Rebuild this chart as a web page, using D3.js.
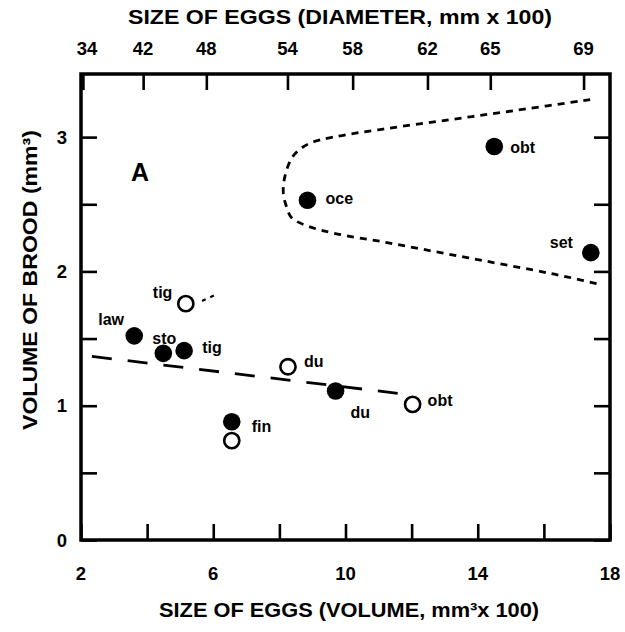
<!DOCTYPE html>
<html>
<head>
<meta charset="utf-8">
<script src="https://cdn.jsdelivr.net/npm/d3@7"></script>
<style>
  html, body { margin: 0; padding: 0; background: #fff; }
  svg { display: block; }
  text { font-family: "Liberation Sans", Arial, Helvetica, sans-serif; fill: #000; }
</style>
</head>
<body>
<svg id="chart" width="625" height="632"></svg>
<script>
// Egg size (volume, mm^3 x 100) versus brood volume (mm^3)
const filledSpecies = ["law", "sto", "tig", "fin", "oce", "du", "obt", "set"];
const filledEggVolume = [3.61, 4.49, 5.12, 6.56, 8.85, 9.70, 14.50, 17.42];
const filledBrood = [1.52, 1.39, 1.41, 0.88, 2.53, 1.11, 2.93, 2.14];

const openSpecies = ["tig", "", "du", "obt"];
const openEggVolume = [5.17, 6.56, 8.26, 12.03];
const openBrood = [1.76, 0.74, 1.29, 1.01];

// long-dashed trend line through the lower group
const trendEggVolume = [2.33, 11.59];
const trendBrood = [1.367, 1.092];

// short-dashed envelope around the upper group
const envelopeEggVolume = [17.40, 15.18, 13.16, 11.14, 9.63, 8.88, 8.42, 8.17, 8.12, 8.22, 8.37, 8.83, 9.73, 11.14, 12.66, 14.17, 15.68, 16.69, 17.75];
const envelopeBrood = [3.28, 3.20, 3.13, 3.06, 3.00, 2.95, 2.86, 2.71, 2.58, 2.48, 2.40, 2.34, 2.28, 2.22, 2.15, 2.08, 2.01, 1.96, 1.90];

// small dashed tail beside the open "tig" point
const tailEggVolume = [5.66, 6.11];
const tailBrood = [1.78, 1.83];

// axes
const volumeTicks = [2, 4, 6, 8, 10, 12, 14, 16, 18];
const volumeTickLabels = [2, 6, 10, 14, 18];
const broodTicks = [0, 0.5, 1, 1.5, 2, 2.5, 3];
const broodTickLabels = [0, 1, 2, 3];
const diameterTicks = [34, 42, 48, 54, 58, 62, 65, 69];

const titleTop = "SIZE OF EGGS (DIAMETER, mm x 100)";
const titleBottom = "SIZE OF EGGS (VOLUME, mm\u00B3x 100)";
const titleLeft = "VOLUME OF BROOD (mm\u00B3)";
const panelLetter = "A";

// layout
const plot = { left: 81, right: 610, top: 74, bottom: 540 };
const tickLen = 16;

const svg = d3.select("#chart");

const x = d3.scaleLinear().domain([2, 18]).range([plot.left, plot.right]);
const y = d3.scaleLinear().domain([0, 3.47]).range([plot.bottom, plot.top]);

// diameter (mm x 100) of a sphere -> volume (mm^3 x 100)
const diameterToVolume = d => Math.PI / 6 * Math.pow(d / 100, 3) * 100;

// inward-pointing ticks on all four sides
function styleAxis(g) {
  g.select(".domain").remove();
  g.selectAll(".tick line").attr("stroke", "#000").attr("stroke-width", 2.6);
  g.selectAll(".tick text").remove();
}

svg.append("g")
  .attr("transform", `translate(0,${plot.bottom})`)
  .call(d3.axisBottom(x).tickValues(volumeTicks).tickSize(-tickLen))
  .call(styleAxis);

svg.append("g")
  .attr("transform", `translate(${plot.left},0)`)
  .call(d3.axisLeft(y).tickValues(broodTicks).tickSize(-tickLen))
  .call(styleAxis);

svg.append("g")
  .attr("transform", `translate(${plot.right},0)`)
  .call(d3.axisRight(y).tickValues(broodTicks).tickSize(-tickLen))
  .call(styleAxis);

svg.append("g")
  .attr("transform", `translate(0,${plot.top})`)
  .call(d3.axisTop(x).tickValues(diameterTicks.map(diameterToVolume)).tickSize(-tickLen))
  .call(styleAxis);

// frame
svg.append("rect")
  .attr("x", plot.left).attr("y", plot.top)
  .attr("width", plot.right - plot.left).attr("height", plot.bottom - plot.top)
  .attr("fill", "none").attr("stroke", "#000").attr("stroke-width", 3.5);

// tick labels
const tickFont = { size: "18.5px", weight: "bold" };

svg.append("g").selectAll("text").data(volumeTickLabels).join("text")
  .attr("x", d => x(d)).attr("y", 580)
  .attr("text-anchor", "middle")
  .style("font-size", tickFont.size).style("font-weight", tickFont.weight)
  .text(d => d);

svg.append("g").selectAll("text").data(broodTickLabels).join("text")
  .attr("x", 67).attr("y", d => y(d) + 6.5)
  .attr("text-anchor", "end")
  .style("font-size", tickFont.size).style("font-weight", tickFont.weight)
  .text(d => d);

svg.append("g").selectAll("text").data(diameterTicks).join("text")
  .attr("x", d => x(diameterToVolume(d)) + (d === 34 ? 4 : 0)).attr("y", 55)
  .attr("text-anchor", "middle")
  .style("font-size", tickFont.size).style("font-weight", tickFont.weight)
  .text(d => d);

// axis titles
svg.append("text")
  .attr("x", 340).attr("y", 24)
  .attr("text-anchor", "middle")
  .attr("textLength", 424).attr("lengthAdjust", "spacingAndGlyphs")
  .style("font-size", "19.5px").style("font-weight", "bold")
  .text(titleTop);

svg.append("text")
  .attr("x", 349).attr("y", 617)
  .attr("text-anchor", "middle")
  .attr("textLength", 380).attr("lengthAdjust", "spacingAndGlyphs")
  .style("font-size", "19.5px").style("font-weight", "bold")
  .text(titleBottom);

svg.append("text")
  .attr("transform", "translate(37,280) rotate(-90)")
  .attr("text-anchor", "middle")
  .attr("textLength", 300).attr("lengthAdjust", "spacingAndGlyphs")
  .style("font-size", "20px").style("font-weight", "bold")
  .text(titleLeft);

svg.append("text")
  .attr("x", 140).attr("y", 181)
  .attr("text-anchor", "middle")
  .style("font-size", "25px").style("font-weight", "bold")
  .text(panelLetter);

// dashed lines
const line = d3.line().x(d => x(d[0])).y(d => y(d[1]));
const curve = d3.line().x(d => x(d[0])).y(d => y(d[1])).curve(d3.curveCatmullRom.alpha(0.5));

svg.append("path")
  .attr("d", line(d3.zip(trendEggVolume, trendBrood)))
  .attr("fill", "none").attr("stroke", "#000").attr("stroke-width", 2.8)
  .attr("stroke-dasharray", "20,16");

svg.append("path")
  .attr("d", curve(d3.zip(envelopeEggVolume, envelopeBrood)))
  .attr("fill", "none").attr("stroke", "#000").attr("stroke-width", 2.8)
  .attr("stroke-dasharray", "7,6");

svg.append("path")
  .attr("d", line(d3.zip(tailEggVolume, tailBrood)))
  .attr("fill", "none").attr("stroke", "#000").attr("stroke-width", 2.2)
  .attr("stroke-dasharray", "4,5");

// points
const filled = filledSpecies.map((s, i) => ({ s, v: filledEggVolume[i], b: filledBrood[i], key: "f-" + s }));
const open = openSpecies.map((s, i) => ({ s, v: openEggVolume[i], b: openBrood[i], key: "o-" + s }));

svg.append("g").selectAll("circle").data(filled).join("circle")
  .attr("cx", d => x(d.v)).attr("cy", d => y(d.b)).attr("r", 8.8)
  .attr("fill", "#000");

svg.append("g").selectAll("circle").data(open).join("circle")
  .attr("cx", d => x(d.v)).attr("cy", d => y(d.b)).attr("r", 7.6)
  .attr("fill", "#fff").attr("stroke", "#000").attr("stroke-width", 2.6);

// species label offsets (text start, baseline) from each point centre
const labelOffset = {
  "f-law": [-36, -11], "f-sto": [-11, -9], "f-tig": [18, 2], "f-fin": [20, 10],
  "f-oce": [18, 4], "f-du": [15, 27], "f-obt": [16, 6], "f-set": [-41, -5],
  "o-tig": [-33, -6], "o-du": [16, 0], "o-obt": [15, 2]
};

svg.append("g").selectAll("text").data(filled.concat(open).filter(d => d.s)).join("text")
  .attr("x", d => x(d.v) + labelOffset[d.key][0])
  .attr("y", d => y(d.b) + labelOffset[d.key][1])
  .style("font-size", "16px").style("font-weight", "bold")
  .text(d => d.s);
</script>
</body>
</html>
